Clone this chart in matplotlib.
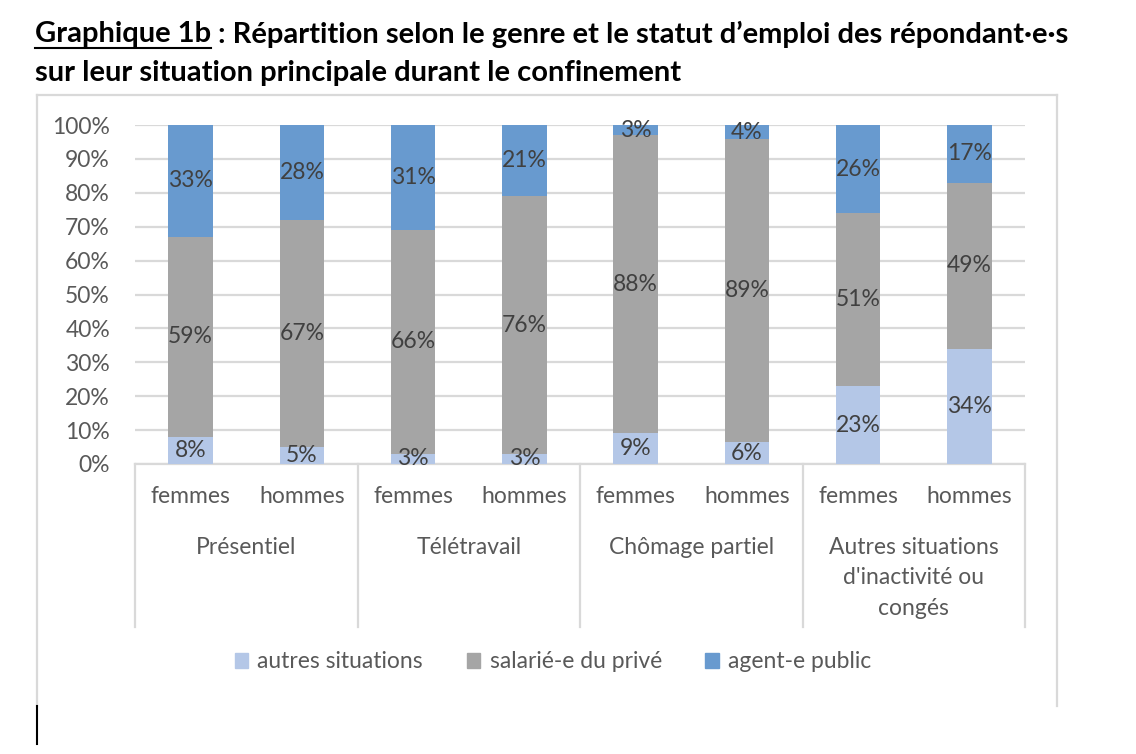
import matplotlib
matplotlib.use("Agg")
import matplotlib.pyplot as plt
import matplotlib.transforms as mtransforms
from matplotlib.patches import Patch
from matplotlib.lines import Line2D

# données (en %)
situations = ["Présentiel", "Télétravail", "Chômage partiel",
              "Autres situations\nd'inactivité ou\ncongés"]
genres = ["femmes", "hommes"]
autres = [8, 5, 3, 3, 9, 6.4, 23, 34]
salarie = [59, 67, 66, 76, 88, 89.4, 51, 49]
agent = [33, 28, 31, 21, 3, 4.2, 26, 17]
series_noms = ["autres situations", "salarié-e du privé", "agent-e public"]
couleurs = ["#B4C7E7", "#A5A5A5", "#689ACF"]
yticks = list(range(0, 101, 10))

plt.rcParams["font.family"] = ["Lato", "DejaVu Sans"]
texte = "#404040"

fig = plt.figure(figsize=(11.36, 7.54), dpi=100)
W, H = 1136, 754
ax = fig.add_axes([135 / W, 1 - 464 / H, 890 / W, 339 / H])

x = list(range(len(autres)))
bas2 = [a + s for a, s in zip(autres, salarie)]
for vals, bas, c in zip([autres, salarie, agent], [[0] * 8, autres, bas2], couleurs):
    bars = ax.bar(x, vals, bottom=bas, width=0.4, color=c, zorder=3)
    for b, v, y0 in zip(bars, vals, bas):
        ax.text(b.get_x() + b.get_width() / 2, y0 + v / 2, f"{round(v)}%",
                ha="center", va="center", fontsize=16.5, color=texte, zorder=4)

ax.set_xlim(-0.5, 7.5)
ax.set_ylim(0, 100)
ax.set_yticks(yticks)
ax.set_yticklabels([f"{t}%" for t in yticks], fontsize=16.5, color="#595959")
ax.tick_params(axis="y", length=0, pad=18)
ax.set_xticks([])
ax.grid(axis="y", color="#D9D9D9", linewidth=1.6, zorder=0)
for s in ["top", "right", "left"]:
    ax.spines[s].set_visible(False)
ax.spines["bottom"].set_color("#D9D9D9")
ax.spines["bottom"].set_linewidth(1.6)

# axe des catégories à deux niveaux
trans = mtransforms.blended_transform_factory(ax.transData, ax.transAxes)
for sep in [-0.5, 1.5, 3.5, 5.5, 7.5]:
    ax.add_line(Line2D([sep, sep], [0, -0.481], transform=trans,
                       color="#D9D9D9", linewidth=1.6, clip_on=False))
for i in x:
    ax.text(i, -0.097, genres[i % 2], transform=trans, ha="center",
            va="center", fontsize=16.5, color="#595959")
for g, nom in enumerate(situations):
    ax.text(2 * g + 0.5, -0.215, nom, transform=trans, ha="center",
            va="top", fontsize=16.5, color="#595959", linespacing=1.55)

# légende
handles = [Patch(color=c, label=n) for c, n in zip(couleurs, series_noms)]
fig.legend(handles=handles, loc="center", bbox_to_anchor=(553 / W, 1 - 662 / H),
           ncol=3, frameon=False, fontsize=16.5, handlelength=0.6,
           handleheight=0.6, handletextpad=0.4, columnspacing=1.9,
           labelcolor="#595959")

# cadre du graphique
for xs, ys in [([37, 37], [95, 706]), ([37, 1057], [95, 95]), ([1057, 1057], [95, 706])]:
    fig.add_artist(Line2D([v / W for v in xs], [1 - v / H for v in ys],
                          color="#D9D9D9", linewidth=1.6))
fig.add_artist(Line2D([37 / W, 37 / W], [1 - 706 / H, 1 - 744 / H],
                      color="black", linewidth=1.5))

# titre avec « Graphique 1b » souligné
t1 = fig.text(35 / W, 1 - 34 / H, "Graphique 1b", fontsize=21, fontweight="bold",
              va="center", color="black")
fig.canvas.draw()
r = fig.canvas.get_renderer()
bb = t1.get_window_extent(r)
fig.add_artist(Line2D([bb.x0 / W, bb.x1 / W], [(bb.y0 - 1) / H, (bb.y0 - 1) / H],
                      color="black", linewidth=1.5))
fig.text(bb.x1 / W, 1 - 34 / H,
         " : Répartition selon le genre et le statut d’emploi des répondant·e·s",
         fontsize=21, fontweight="bold", va="center", color="black")
fig.text(35 / W, 1 - 73 / H, "sur leur situation principale durant le confinement",
         fontsize=21, fontweight="bold", va="center", color="black")

fig.savefig("out.png", dpi=100, facecolor="white")
